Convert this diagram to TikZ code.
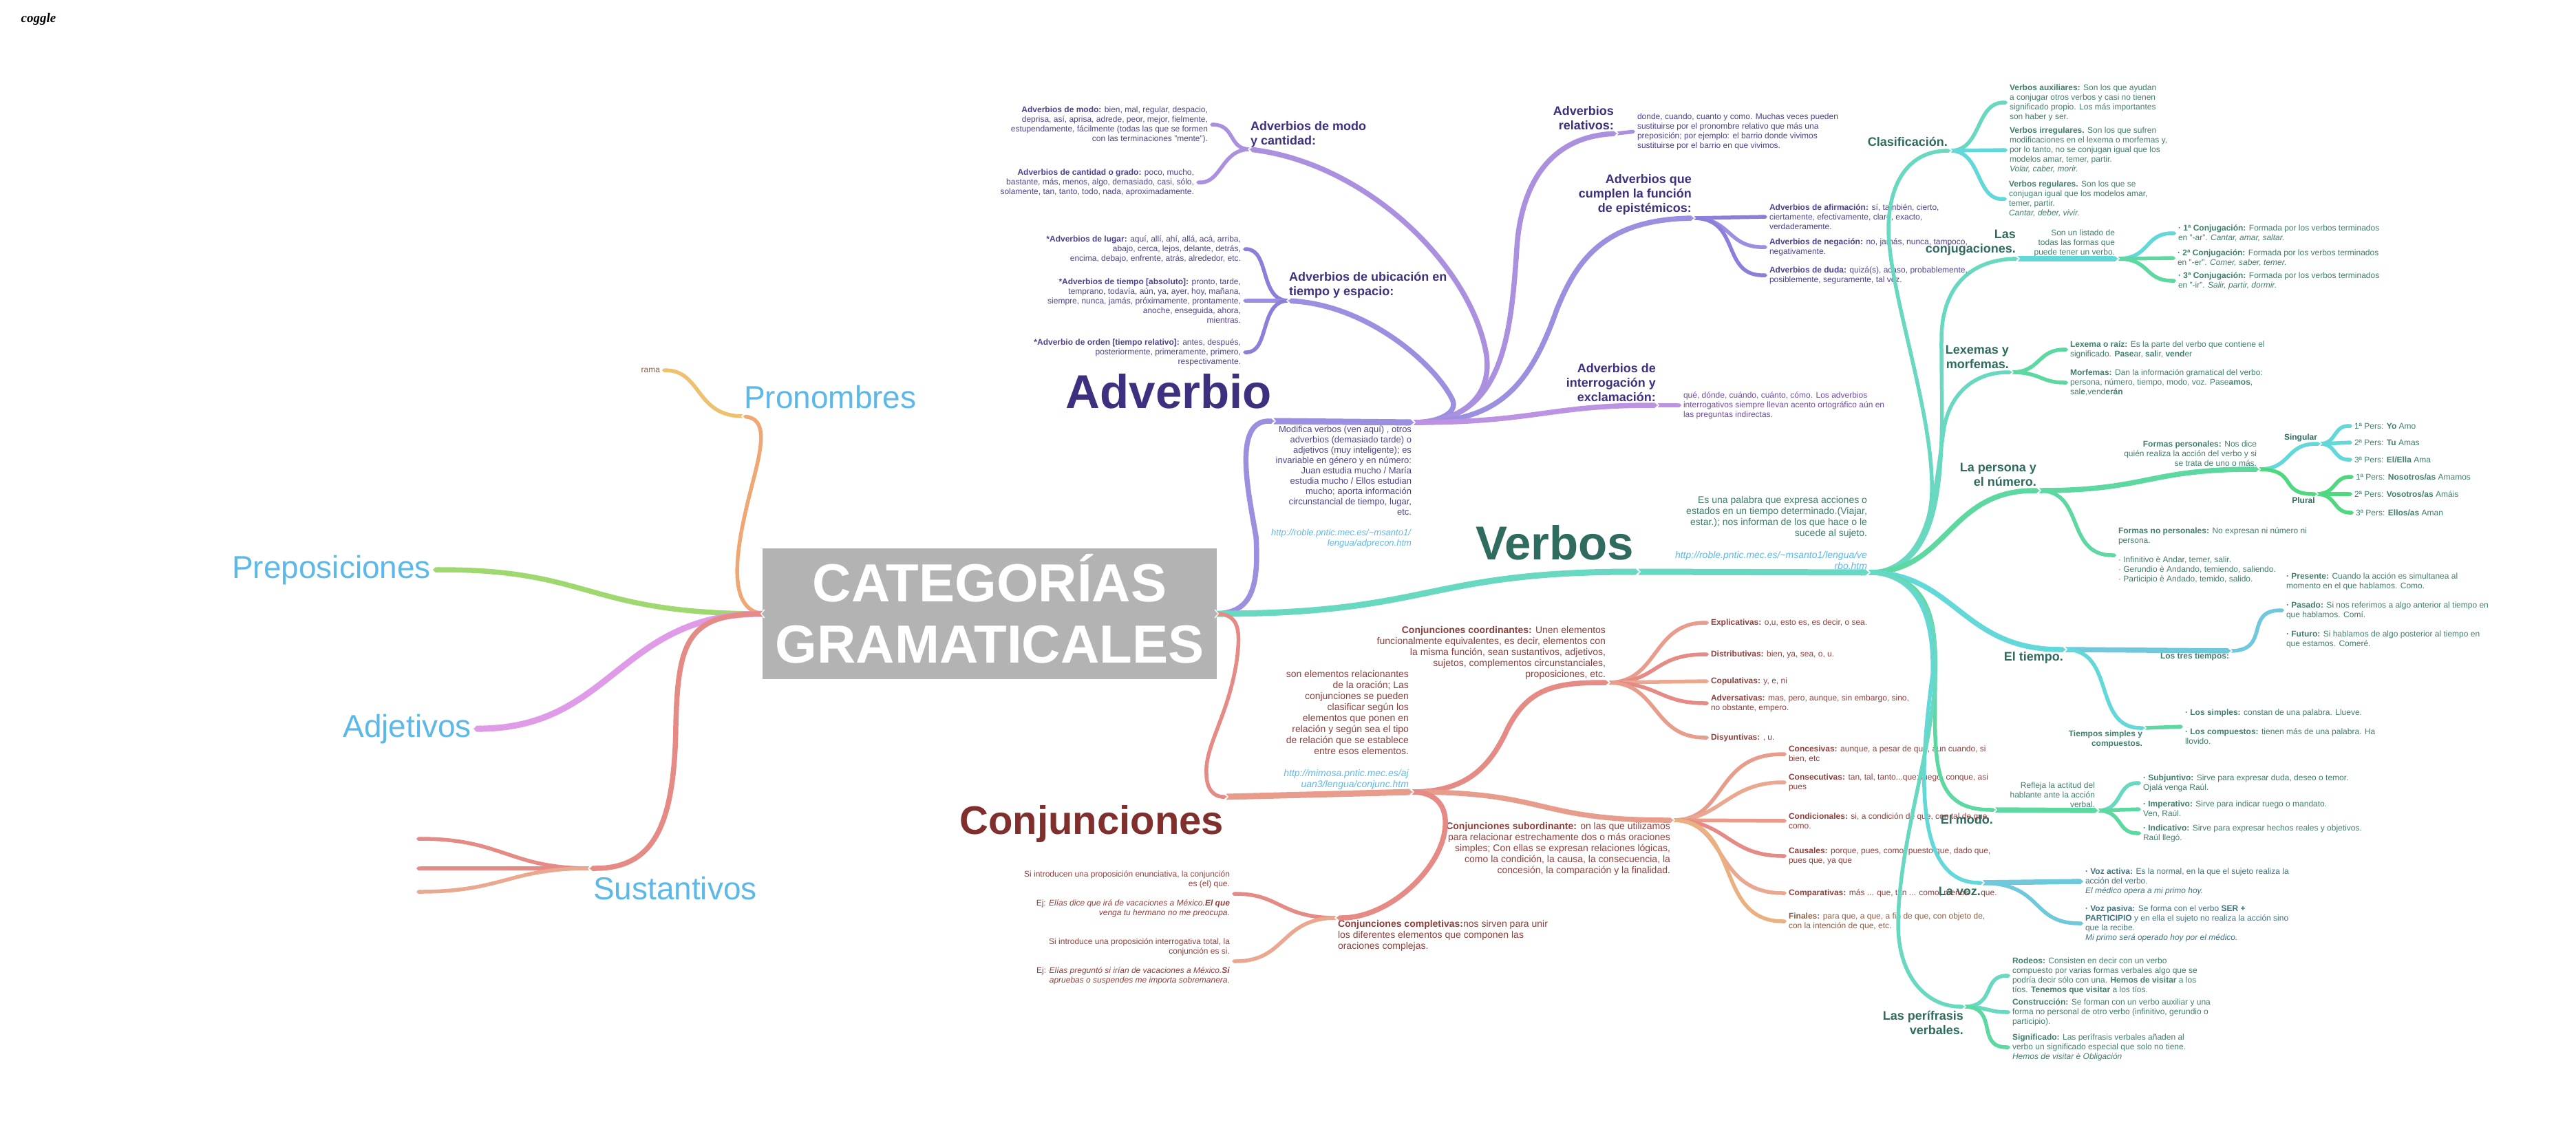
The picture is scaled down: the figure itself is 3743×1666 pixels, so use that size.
\documentclass[tikz,border=0pt]{standalone}
\usepackage{fontspec}
\setmainfont{Liberation Sans}
\newfontfamily\fuenteLogo{Liberation Serif}
\usetikzlibrary{arrows.meta}

\definecolor{gris}{HTML}{B3B3B3}
\definecolor{enlace}{HTML}{5BB8E8}
\definecolor{txMorado}{HTML}{4F3F8F}
\definecolor{txLila}{HTML}{6F4A9F}
\definecolor{txVerde}{HTML}{3F7D6C}
\definecolor{txAzul}{HTML}{3F7380}
\definecolor{txRojo}{HTML}{8E3F3A}
\definecolor{txOcre}{HTML}{8E5A3F}
\definecolor{tiMorado}{HTML}{3F2F7F}
\definecolor{tiVerde}{HTML}{2F6B5E}
\definecolor{tiRojo}{HTML}{802F2D}
\definecolor{naranja}{HTML}{EFA873}
\definecolor{amarillo}{HTML}{EEC170}
\definecolor{verdeP}{HTML}{A0D870}
\definecolor{rosa}{HTML}{E09BE8}
\definecolor{rojoA}{HTML}{E58A85}
\definecolor{rojoB}{HTML}{E89C8C}
\definecolor{rojoC}{HTML}{EAA890}
\definecolor{melon}{HTML}{EAB080}
\definecolor{moradoA}{HTML}{9B8FE0}
\definecolor{moradoB}{HTML}{AC90E0}
\definecolor{moradoC}{HTML}{8A80DC}
\definecolor{lila}{HTML}{BC92E2}
\definecolor{tealA}{HTML}{68D8C0}
\definecolor{tealB}{HTML}{62D8D8}
\definecolor{tealC}{HTML}{5CD8A0}
\definecolor{verdeV}{HTML}{4FD880}
\definecolor{azulV}{HTML}{70C8DC}

\tikzset{
  rama/.style={draw=#1,line cap=butt,-{Triangle Cap[]}},
  grueso/.style={line width=9pt},
  medio/.style={line width=7.5pt},
  fino/.style={line width=5.5pt},
  raiz/.style={fill=gris,text=white,align=center,inner sep=0pt,minimum width=660pt,minimum height=190pt,
    text depth=15pt,font=\bfseries\fontsize{78}{89}\selectfont},
  gran/.style={inner sep=0pt,outer sep=3pt,text=enlace,font=\fontsize{46}{52}\selectfont},
  tema/.style={inner sep=0pt,outer sep=3pt,text=#1,font=\bfseries\fontsize{69}{76}\selectfont},
  titulo/.style={inner sep=0pt,text=#1,font=\bfseries\fontsize{18}{21}\selectfont},
  hojaI/.style={anchor=west,align=left,inner sep=0pt,outer sep=3pt,text=#1,font=\fontsize{12}{14}\selectfont},
  hojaD/.style={anchor=east,align=right,inner sep=0pt,outer sep=3pt,text=#1,font=\fontsize{12}{14}\selectfont},
  letraB/.style={font=\fontsize{13}{15}\selectfont},
  letraC/.style={font=\fontsize{14}{16}\selectfont},
  chevD/.pic={\draw[white,line width=1.4pt] (-3,-6)--(2,0)--(-3,6);},
  chevI/.pic={\draw[white,line width=1.4pt] (3,-6)--(-2,0)--(3,6);}
}

\begin{document}
\begin{tikzpicture}[x=1pt,y=-1pt]
  \useasboundingbox (0,0) rectangle (3743,1666);

  \draw (56,28) node[inner sep=0pt,font=\fuenteLogo\bfseries\itshape\fontsize{19}{19}\selectfont] (logo) {coggle};

  % raiz y temas
  \draw (1438,892) node[raiz] (raiz) {CATEGORÍAS\\GRAMATICALES};
  \draw (1078,593) node[gran,anchor=base west] (pronombres) {Pronombres};
  \draw (629,840) node[gran,anchor=base east] (preposiciones) {Preposiciones};
  \draw (688,1071) node[gran,anchor=base east] (adjetivos) {Adjetivos};
  \draw (859,1307) node[gran,anchor=base west] (sustantivos) {Sustantivos};
  \draw (1851,593) node[tema=tiMorado,anchor=base east] (adverbio) {Adverbio};
  \draw (2141,813) node[tema=tiVerde,anchor=base west] (verbos) {Verbos};
  \draw (1781,1212) node[tema=tiRojo,font=\bfseries\fontsize{58}{64}\selectfont,anchor=base east] (conjunciones) {Conjunciones};
  \draw (962,538) node[hojaD=txOcre] (rama) {rama};

  % puntos de union
  \coordinate (jPron) at (1080,605);
  \coordinate (jSust) at (857,1262);
  \coordinate (sA) at (605,1219);
  \coordinate (sB) at (605,1262);
  \coordinate (sC) at (605,1296);
  \coordinate (jAdv) at (1851,612);
  \coordinate (jAdvB) at (2054,614);
  \coordinate (jModo) at (1816,217);
  \coordinate (jUbic) at (1872,437);
  \coordinate (jRel) at (2349,194);
  \coordinate (jEpis) at (2461,317);
  \coordinate (jInter) at (2408,589);
  \coordinate (jVerb) at (2381,831);
  \coordinate (jVerbB) at (2715,832);
  \coordinate (jClas) at (2834,219);
  \coordinate (jConj) at (2932,376);
  \coordinate (jConjB) at (3077,376);
  \coordinate (jLex) at (2923,541);
  \coordinate (jPers) at (2963,713);
  \coordinate (jForm) at (3282,682);
  \coordinate (jSing) at (3371,645);
  \coordinate (jPlur) at (3366,718);
  \coordinate (jTiem) at (3001,944);
  \coordinate (jTres) at (3241,946);
  \coordinate (jSimp) at (3116,1058);
  \coordinate (jMod) at (2899,1177);
  \coordinate (jModB) at (3048,1178);
  \coordinate (jVoz) at (2881,1283);
  \coordinate (jPerif) at (2854,1463);
  \coordinate (jCon) at (1782,1158);
  \coordinate (jConB) at (2052,1151);
  \coordinate (jCoord) at (2337,992);
  \coordinate (jSub) at (2431,1192);
  \coordinate (jComp) at (1942,1334);

  % adverbio
  \draw (1817,195) node[titulo=tiMorado,anchor=west,align=left] (tModo) {Adverbios de modo\\y cantidad:};
  \draw (1873,414) node[titulo=tiMorado,anchor=west,align=left] (tUbic) {Adverbios de ubicación en\\tiempo y espacio:};
  \draw (2345,172) node[titulo=tiMorado,anchor=east,align=right] (tRel) {Adverbios\\relativos:};
  \draw (2458,283) node[titulo=tiMorado,anchor=east,align=right] (tEpis) {Adverbios que\\cumplen la función\\de epistémicos:};
  \draw (2406,556) node[titulo=tiMorado,anchor=east,align=right] (tInter) {Adverbios de\\interrogación y\\exclamación:};
  \draw (2054,708) node[hojaD=txMorado,letraB] (defAdv) {Modifica verbos (ven aquí) , otros\\adverbios (demasiado tarde) o\\adjetivos (muy inteligente); es\\invariable en género y en número:\\Juan estudia mucho / María\\estudia mucho / Ellos estudian\\mucho; aporta información\\circunstancial de tiempo, lugar,\\etc.\\[15pt]\textcolor{enlace}{\textit{http://roble.pntic.mec.es/\textasciitilde msanto1/}}\\\textcolor{enlace}{\textit{lengua/adprecon.htm}}};
  \draw (1758,181) node[hojaD=txMorado] (modo) {\textbf{Adverbios de modo:} bien, mal, regular, despacio,\\deprisa, así, aprisa, adrede, peor, mejor, fielmente,\\estupendamente, fácilmente (todas las que se formen\\con las terminaciones "mente").};
  \draw (1738,265) node[hojaD=txMorado] (cantidad) {\textbf{Adverbios de cantidad o grado:} poco, mucho,\\bastante, más, menos, algo, demasiado, casi, sólo,\\solamente, tan, tanto, todo, nada, aproximadamente.};
  \draw (1806,362) node[hojaD=txMorado] (lugar) {\textbf{*Adverbios de lugar:} aquí, allí, ahí, allá, acá, arriba,\\abajo, cerca, lejos, delante, detrás,\\encima, debajo, enfrente, atrás, alrededor, etc.};
  \draw (1806,437) node[hojaD=txMorado] (tiempoAdv) {\textbf{*Adverbios de tiempo [absoluto]:} pronto, tarde,\\temprano, todavía, aún, ya, ayer, hoy, mañana,\\siempre, nunca, jamás, próximamente, prontamente,\\anoche, enseguida, ahora,\\mientras.};
  \draw (1806,512) node[hojaD=txMorado] (orden) {\textbf{*Adverbio de orden [tiempo relativo]:} antes, después,\\posteriormente, primeramente, primero,\\respectivamente.};
  \draw (2376,191) node[hojaI=txMorado] (relTxt) {donde, cuando, cuanto y como. Muchas veces pueden\\sustituirse por el pronombre relativo que más una\\preposición; por ejemplo: el barrio donde vivimos\\sustituirse por el barrio en que vivimos.};
  \draw (2568,315) node[hojaI=txMorado] (afirm) {\textbf{Adverbios de afirmación:} sí, también, cierto,\\ciertamente, efectivamente, claro, exacto,\\verdaderamente.};
  \draw (2568,359) node[hojaI=txMorado] (nega) {\textbf{Adverbios de negación:} no, jamás, nunca, tampoco,\\negativamente.};
  \draw (2568,400) node[hojaI=txMorado] (duda) {\textbf{Adverbios de duda:} quizá(s), acaso, probablemente,\\posiblemente, seguramente, tal vez.};
  \draw (2443,589) node[hojaI=txLila] (interTxt) {qué, dónde, cuándo, cuánto, cómo. Los adverbios\\interrogativos siempre llevan acento ortográfico aún en\\las preguntas indirectas.};

  % verbos
  \draw (2716,774) node[hojaD=txVerde,letraC] (defVerb) {Es una palabra que expresa acciones o\\estados en un tiempo determinado.(Viajar,\\estar.); nos informan de los que hace o le\\sucede al sujeto.\\[16pt]\textcolor{enlace}{\textit{http://roble.pntic.mec.es/\textasciitilde msanto1/lengua/ve}}\\\textcolor{enlace}{\textit{rbo.htm}}};
  \draw (2830,206) node[titulo=tiVerde,anchor=east] (tClas) {Clasificación.};
  \draw (2929,353) node[titulo=tiVerde,anchor=east,align=right] (tConj) {Las\\conjugaciones.};
  \draw (2919,519) node[titulo=tiVerde,anchor=east,align=right] (tLex) {Lexemas y\\morfemas.};
  \draw (2959,690) node[titulo=tiVerde,anchor=east,align=right] (tPers) {La persona y\\el número.};
  \draw (2998,956) node[titulo=tiVerde,anchor=east] (tTiem) {El tiempo.};
  \draw (2896,1191) node[titulo=tiVerde,anchor=east] (tMod) {El modo.};
  \draw (2878,1295) node[titulo=tiVerde,anchor=east] (tVoz) {La voz.};
  \draw (2853,1486) node[titulo=tiVerde,anchor=east,align=right] (tPerif) {Las perífrasis\\verbales.};
  \draw (2917,149) node[hojaI=txVerde] (auxil) {\textbf{Verbos auxiliares:} Son los que ayudan\\a conjugar otros verbos y casi no tienen\\significado propio. Los más importantes\\son haber y ser.};
  \draw (2917,218) node[hojaI=txVerde] (irreg) {\textbf{Verbos irregulares.} Son los que sufren\\modificaciones en el lexema o morfemas y,\\por lo tanto, no se conjugan igual que los\\modelos amar, temer, partir.\\\textit{Volar, caber, morir.}};
  \draw (2916,289) node[hojaI=txVerde] (regul) {\textbf{Verbos regulares.} Son los que se\\conjugan igual que los modelos amar,\\temer, partir.\\\textit{Cantar, deber, vivir.}};
  \draw (3076,353) node[hojaD=txVerde] (defConj) {Son un listado de\\todas las formas que\\puede tener un verbo.};
  \draw (3162,339) node[hojaI=txVerde] (conjA) {\textbf{· 1ª Conjugación:} Formada por los verbos terminados\\en "-ar". \textit{Cantar, amar, saltar.}};
  \draw (3161,375) node[hojaI=txVerde] (conjB) {\textbf{· 2ª Conjugación:} Formada por los verbos terminados\\en "-er". \textit{Comer, saber, temer.}};
  \draw (3162,408) node[hojaI=txVerde] (conjC) {\textbf{· 3ª Conjugación:} Formada por los verbos terminados\\en "-ir". \textit{Salir, partir, dormir.}};
  \draw (3005,508) node[hojaI=txVerde] (lexema) {\textbf{Lexema o raíz:} Es la parte del verbo que contiene el\\significado. \textbf{Pase}ar, \textbf{sal}ir, \textbf{vend}er};
  \draw (3005,556) node[hojaI=txVerde] (morfemas) {\textbf{Morfemas:} Dan la información gramatical del verbo:\\persona, número, tiempo, modo, voz. Pase\textbf{amos},\\sal\textbf{e},vend\textbf{erán}};
  \draw (3282,659) node[hojaD=txVerde] (formasP) {\textbf{Formas personales:} Nos dice\\quién realiza la acción del verbo y si\\se trata de uno o más.};
  \draw (3075,807) node[hojaI=txVerde] (formasN) {\textbf{Formas no personales:} No expresan ni número ni\\persona.\\[14pt]· Infinitivo è Andar, temer, salir.\\· Gerundio è Andando, temiendo, saliendo.\\· Participio è Andado, temido, salido.};
  \draw (3343,636) node[titulo=tiVerde,font=\bfseries\fontsize{12}{14}\selectfont] (tSing) {Singular};
  \draw (3347,727) node[titulo=tiVerde,font=\bfseries\fontsize{12}{14}\selectfont] (tPlur) {Plural};
  \draw (3418,619) node[hojaI=txVerde] (sgA) {1ª Pers: \textbf{Yo} Amo};
  \draw (3418,643) node[hojaI=txVerde] (sgB) {2ª Pers: \textbf{Tu} Amas};
  \draw (3418,668) node[hojaI=txVerde] (sgC) {3ª Pers: \textbf{El/Ella} Ama};
  \draw (3420,693) node[hojaI=txVerde] (plA) {1ª Pers: \textbf{Nosotros/as} Amamos};
  \draw (3418,718) node[hojaI=txVerde] (plB) {2ª Pers: \textbf{Vosotros/as} Amáis};
  \draw (3420,745) node[hojaI=txVerde] (plC) {3ª Pers: \textbf{Ellos/as} Aman};
  \draw (3242,954) node[hojaD=txVerde] (tTres) {\textbf{Los tres tiempos:}};
  \draw (3319,887) node[hojaI=txVerde] (tresTxt) {\textbf{· Presente:} Cuando la acción es simultanea al\\momento en el que hablamos. Como.\\[14pt]\textbf{· Pasado:} Si nos referimos a algo anterior al tiempo en\\que hablamos. Comí.\\[14pt]\textbf{· Futuro:} Si hablamos de algo posterior al tiempo en\\que estamos. Comeré.};
  \draw (3116,1074) node[hojaD=txVerde] (tSimp) {\textbf{Tiempos simples y}\\\textbf{compuestos.}};
  \draw (3172,1056) node[hojaI=txVerde] (simpTxt) {\textbf{· Los simples:} constan de una palabra. Llueve.\\[14pt]\textbf{· Los compuestos:} tienen más de una palabra. Ha\\llovido.};
  \draw (3047,1155) node[hojaD=txVerde] (defMod) {Refleja la actitud del\\hablante ante la acción\\verbal.};
  \draw (3111,1138) node[hojaI=txVerde] (subj) {\textbf{· Subjuntivo:} Sirve para expresar duda, deseo o temor.\\Ojalá venga Raúl.};
  \draw (3111,1176) node[hojaI=txVerde] (imper) {\textbf{· Imperativo:} Sirve para indicar ruego o mandato.\\Ven, Raúl.};
  \draw (3111,1211) node[hojaI=txVerde] (indic) {\textbf{· Indicativo:} Sirve para expresar hechos reales y objetivos.\\Raúl llegó.};
  \draw (3027,1281) node[hojaI=txAzul] (vozA) {\textbf{· Voz activa:} Es la normal, en la que el sujeto realiza la\\acción del verbo.\\\textit{El médico opera a mi primo hoy.}};
  \draw (3027,1342) node[hojaI=txAzul] (vozP) {\textbf{· Voz pasiva:} Se forma con el verbo \textbf{SER +}\\\textbf{PARTICIPIO} y en ella el sujeto no realiza la acción sino\\que la recibe.\\\textit{Mi primo será operado hoy por el médico.}};
  \draw (2921,1418) node[hojaI=txVerde] (rodeos) {\textbf{Rodeos:} Consisten en decir con un verbo\\compuesto por varias formas verbales algo que se\\podría decir sólo con una. \textbf{Hemos de visitar} a los\\tíos. \textbf{Tenemos que visitar} a los tíos.};
  \draw (2921,1471) node[hojaI=txVerde] (constr) {\textbf{Construcción:} Se forman con un verbo auxiliar y una\\forma no personal de otro verbo (infinitivo, gerundio o\\participio).};
  \draw (2921,1522) node[hojaI=txVerde] (signif) {\textbf{Significado:} Las perífrasis verbales añaden al\\verbo un significado especial que solo no tiene.\\\textit{Hemos de visitar è Obligación}};

  % conjunciones
  \draw (2050,1061) node[hojaD=txRojo,letraC] (defCon) {son elementos relacionantes\\de la oración; Las\\conjunciones se pueden\\clasificar según los\\elementos que ponen en\\relación y según sea el tipo\\de relación que se establece\\entre esos elementos.\\[16pt]\textcolor{enlace}{\textit{http://mimosa.pntic.mec.es/aj}}\\\textcolor{enlace}{\textit{uan3/lengua/conjunc.htm}}};
  \draw (2336,949) node[hojaD=txRojo,letraC] (coord) {\textbf{Conjunciones coordinantes:} Unen elementos\\funcionalmente equivalentes, es decir, elementos con\\la misma función, sean sustantivos, adjetivos,\\sujetos, complementos circunstanciales,\\proposiciones, etc.};
  \draw (2430,1234) node[hojaD=txRojo,letraC] (subord) {\textbf{Conjunciones subordinante:} on las que utilizamos\\para relacionar estrechamente dos o más oraciones\\simples; Con ellas se expresan relaciones lógicas,\\como la condición, la causa, la consecuencia, la\\concesión, la comparación y la finalidad.};
  \draw (1941,1360) node[hojaI=txRojo,letraC] (compl) {\textbf{Conjunciones completivas:}nos sirven para unir\\los diferentes elementos que componen las\\oraciones complejas.};
  \draw (2483,905) node[hojaI=txRojo] (explic) {\textbf{Explicativas:} o,u, esto es, es decir, o sea.};
  \draw (2483,951) node[hojaI=txRojo] (distr) {\textbf{Distributivas:} bien, ya, sea, o, u.};
  \draw (2483,990) node[hojaI=txRojo] (copul) {\textbf{Copulativas:} y, e, ni};
  \draw (2483,1022) node[hojaI=txRojo] (adver) {\textbf{Adversativas:} mas, pero, aunque, sin embargo, sino,\\no obstante, empero.};
  \draw (2483,1072) node[hojaI=txRojo] (disyu) {\textbf{Disyuntivas:} , u.};
  \draw (2596,1096) node[hojaI=txRojo] (conce) {\textbf{Concesivas:} aunque, a pesar de que, aun cuando, si\\bien, etc};
  \draw (2596,1137) node[hojaI=txRojo] (conse) {\textbf{Consecutivas:} tan, tal, tanto...que; luego, conque, asi\\pues};
  \draw (2596,1193) node[hojaI=txRojo] (condi) {\textbf{Condicionales:} si, a condición de que, con tal de que,\\como.};
  \draw (2596,1244) node[hojaI=txRojo] (causa) {\textbf{Causales:} porque, pues, como, puesto que, dado que,\\pues que, ya que};
  \draw (2596,1298) node[hojaI=txRojo] (compa) {\textbf{Comparativas:} más ... que, tan ... como, menos ... que.};
  \draw (2596,1339) node[hojaI=txOcre] (final) {\textbf{Finales:} para que, a que, a fin de que, con objeto de,\\con la intención de que, etc.};
  \draw (1790,1299) node[hojaD=txRojo] (enunc) {Si introducen una proposición enunciativa, la conjunción\\es (el) que.\\[14pt]Ej: \textit{Elías dice que irá de vacaciones a México.\textbf{El que}}\\\textit{venga tu hermano no me preocupa.}};
  \draw (1790,1397) node[hojaD=txRojo] (inter) {Si introduce una proposición interrogativa total, la\\conjunción es si.\\[14pt]Ej: \textit{Elías preguntó si irían de vacaciones a México.\textbf{Si}}\\\textit{apruebas o suspendes me importa sobremanera.}};

  % ramas de la izquierda
  \draw[rama=naranja,fino] (raiz.west) .. controls (1062,886) and (1066,820) .. (1083,745) .. controls (1097,680) and (1125,612) .. (jPron);
  \draw[rama=amarillo,fino] (jPron) .. controls (1010,605) and (1020,539) .. (rama.east);
  \draw[rama=verdeP,medio] (raiz.west) .. controls (850,892) and (860,827) .. (preposiciones.east);
  \draw[rama=rosa,grueso] (raiz.west) .. controls (900,892) and (890,1058) .. (adjetivos.east);
  \draw[rama=rojoA,medio] (raiz.west) .. controls (1000,892) and (985,930) .. (982,1054) .. controls (980,1200) and (950,1262) .. (jSust);
  \draw[rama=rojoA,fino] (jSust) .. controls (740,1262) and (730,1219) .. (sA);
  \draw[rama=rojoA,fino] (jSust) -- (sB);
  \draw[rama=rojoC,fino] (jSust) .. controls (740,1262) and (730,1296) .. (sC);

  % ramas de adverbio
  \draw[rama=moradoA,medio] (raiz.east) .. controls (1815,890) and (1830,860) .. (1825,780) .. controls (1815,720) and (1790,612) .. (jAdv);
  \draw[rama=moradoA,grueso] (jAdv) -- (jAdvB);
  \draw[rama=moradoB,medio] (jAdvB) .. controls (2120,614) and (2168,580) .. (2160,517) .. controls (2140,390) and (1990,240) .. (jModo);
  \draw[rama=moradoA,medio] (jAdvB) .. controls (2090,614) and (2120,600) .. (2110,580) .. controls (2085,530) and (1990,445) .. (jUbic);
  \draw[rama=moradoB,medio] (jAdvB) .. controls (2180,614) and (2195,500) .. (2204,360) .. controls (2210,270) and (2250,200) .. (jRel);
  \draw[rama=moradoA,medio] (jAdvB) .. controls (2170,614) and (2220,570) .. (2262,450) .. controls (2290,380) and (2330,320) .. (jEpis);
  \draw[rama=lila,medio] (jAdvB) .. controls (2230,614) and (2250,589) .. (jInter);
  \draw[rama=lila,fino] (jInter) -- (interTxt.west);
  \draw[rama=moradoB,fino] (jRel) -- (relTxt.west);
  \draw[rama=moradoB,fino] (jModo) .. controls (1785,217) and (1795,182) .. (modo.east);
  \draw[rama=moradoB,fino] (jModo) .. controls (1775,217) and (1775,266) .. (cantidad.east);
  \draw[rama=moradoC,fino] (jUbic) .. controls (1830,437) and (1845,363) .. (lugar.east);
  \draw[rama=moradoA,fino] (jUbic) -- (tiempoAdv.east);
  \draw[rama=moradoC,fino] (jUbic) .. controls (1830,437) and (1845,512) .. (orden.east);
  \draw[rama=moradoC,fino] (jEpis) -- (afirm.west);
  \draw[rama=moradoA,fino] (jEpis) .. controls (2515,317) and (2510,360) .. (nega.west);
  \draw[rama=moradoC,fino] (jEpis) .. controls (2530,317) and (2500,401) .. (duda.west);

  % ramas de verbos
  \draw[rama=tealA,grueso] (raiz.east) .. controls (2080,892) and (2070,831) .. (jVerb);
  \draw[rama=tealA,grueso] (jVerb) -- (jVerbB);
  \draw[rama=tealA,fino] (jVerbB) .. controls (2770,832) and (2805,780) .. (2807,715) .. controls (2810,600) and (2743,420) .. (2744,330) .. controls (2745,270) and (2770,220) .. (jClas);
  \draw[rama=tealA,fino] (jVerbB) .. controls (2840,832) and (2820,640) .. (2821,490) .. controls (2822,420) and (2860,378) .. (jConj);
  \draw[rama=tealA,fino] (jVerbB) .. controls (2810,832) and (2812,700) .. (2825,620) .. controls (2835,570) and (2870,541) .. (jLex);
  \draw[rama=tealC,medio] (jVerbB) .. controls (2830,832) and (2830,713) .. (jPers);
  \draw[rama=tealB,medio] (jVerbB) .. controls (2840,832) and (2850,944) .. (jTiem);
  \draw[rama=tealC,fino] (jVerbB) .. controls (2790,835) and (2812,880) .. (2812,960) .. controls (2812,1100) and (2800,1177) .. (jMod);
  \draw[rama=tealB,fino] (jVerbB) .. controls (2790,835) and (2810,900) .. (2808,980) .. controls (2795,1080) and (2770,1283) .. (jVoz);
  \draw[rama=tealA,fino] (jVerbB) .. controls (2790,835) and (2815,890) .. (2812,980) .. controls (2808,1090) and (2760,1220) .. (2758,1340) .. controls (2757,1420) and (2800,1463) .. (jPerif);
  \draw[rama=tealA,fino] (jClas) .. controls (2880,219) and (2870,149) .. (auxil.west);
  \draw[rama=tealB,fino] (jClas) -- (irreg.west);
  \draw[rama=tealB,fino] (jClas) .. controls (2880,219) and (2870,291) .. (regul.west);
  \draw[rama=tealB,medio] (jConj) -- (jConjB);
  \draw[rama=tealB,fino] (jConjB) .. controls (3125,376) and (3115,339) .. (conjA.west);
  \draw[rama=tealC,fino] (jConjB) -- (conjB.west);
  \draw[rama=tealC,fino] (jConjB) .. controls (3125,376) and (3115,408) .. (conjC.west);
  \draw[rama=tealC,fino] (jLex) .. controls (2965,541) and (2960,508) .. (lexema.west);
  \draw[rama=tealC,fino] (jLex) .. controls (2965,541) and (2965,556) .. (morfemas.west);
  \draw[rama=tealC,medio] (jPers) .. controls (3120,713) and (3120,682) .. (jForm);
  \draw[rama=tealC,fino] (jPers) .. controls (3030,713) and (3000,807) .. (formasN.west);
  \draw[rama=tealB,fino] (jForm) .. controls (3330,682) and (3320,645) .. (jSing);
  \draw[rama=verdeV,fino] (jForm) .. controls (3340,682) and (3310,718) .. (jPlur);
  \draw[rama=tealB,fino] (jSing) .. controls (3395,645) and (3390,619) .. (sgA.west);
  \draw[rama=tealB,fino] (jSing) -- (sgB.west);
  \draw[rama=tealB,fino] (jSing) .. controls (3395,645) and (3390,668) .. (sgC.west);
  \draw[rama=verdeV,fino] (jPlur) .. controls (3395,718) and (3390,693) .. (plA.west);
  \draw[rama=verdeV,fino] (jPlur) -- (plB.west);
  \draw[rama=verdeV,fino] (jPlur) .. controls (3395,718) and (3390,745) .. (plC.west);
  \draw[rama=azulV,medio] (jTiem) -- (jTres);
  \draw[rama=azulV,fino] (jTres) .. controls (3300,946) and (3260,887) .. (tresTxt.west);
  \draw[rama=tealB,fino] (jTiem) .. controls (3075,944) and (3040,1058) .. (jSimp);
  \draw[rama=tealC,fino] (jSimp) -- (simpTxt.west);
  \draw[rama=tealC,medio] (jMod) -- (jModB);
  \draw[rama=tealA,fino] (jModB) .. controls (3085,1178) and (3075,1138) .. (subj.west);
  \draw[rama=tealC,fino] (jModB) -- (imper.west);
  \draw[rama=tealC,fino] (jModB) .. controls (3085,1178) and (3075,1211) .. (indic.west);
  \draw[rama=azulV,medio] (jVoz) -- (vozA.west);
  \draw[rama=azulV,fino] (jVoz) .. controls (2970,1285) and (2950,1342) .. (vozP.west);
  \draw[rama=tealA,fino] (jPerif) .. controls (2900,1463) and (2880,1418) .. (rodeos.west);
  \draw[rama=tealA,fino] (jPerif) .. controls (2885,1463) and (2890,1471) .. (constr.west);
  \draw[rama=tealC,fino] (jPerif) .. controls (2905,1463) and (2870,1522) .. (signif.west);

  % ramas de conjunciones
  \draw[rama=rojoA,fino] (raiz.east) .. controls (1800,893) and (1803,915) .. (1797,960) .. controls (1785,1040) and (1750,1085) .. (1753,1125) .. controls (1753,1148) and (1765,1158) .. (jCon);
  \draw[rama=rojoB,grueso] (jCon) -- (jConB);
  \draw[rama=rojoA,medio] (jConB) .. controls (2130,1151) and (2165,1115) .. (2190,1060) .. controls (2220,1000) and (2260,992) .. (jCoord);
  \draw[rama=rojoB,medio] (jConB) .. controls (2250,1151) and (2230,1192) .. (jSub);
  \draw[rama=rojoA,medio] (jConB) .. controls (2085,1151) and (2102,1170) .. (2100,1200) .. controls (2097,1260) and (2020,1334) .. (jComp);
  \draw[rama=rojoB,fino] (jCoord) .. controls (2410,992) and (2400,905) .. (explic.west);
  \draw[rama=rojoA,fino] (jCoord) .. controls (2410,992) and (2400,951) .. (distr.west);
  \draw[rama=rojoC,fino] (jCoord) -- (copul.west);
  \draw[rama=rojoA,fino] (jCoord) .. controls (2410,992) and (2410,1022) .. (adver.west);
  \draw[rama=rojoB,fino] (jCoord) .. controls (2410,992) and (2400,1072) .. (disyu.west);
  \draw[rama=rojoB,fino] (jSub) .. controls (2510,1192) and (2490,1096) .. (conce.west);
  \draw[rama=rojoC,fino] (jSub) .. controls (2500,1192) and (2510,1137) .. (conse.west);
  \draw[rama=rojoB,fino] (jSub) -- (condi.west);
  \draw[rama=rojoA,fino] (jSub) .. controls (2510,1192) and (2510,1244) .. (causa.west);
  \draw[rama=rojoC,fino] (jSub) .. controls (2510,1192) and (2490,1298) .. (compa.west);
  \draw[rama=melon,fino] (jSub) .. controls (2530,1192) and (2490,1339) .. (final.west);
  \draw[rama=rojoA,fino] (jComp) .. controls (1860,1334) and (1860,1299) .. (enunc.east);
  \draw[rama=rojoC,fino] (jComp) .. controls (1860,1334) and (1870,1397) .. (inter.east);

  % muescas blancas
  \draw (raiz.west) pic {chevI};
  \draw (raiz.east) pic {chevD};
  \draw (jPron) pic {chevI};
  \draw (jSust) pic {chevI};
  \draw (jAdv) pic {chevD};
  \draw (jAdvB) pic {chevD};
  \draw (jModo) pic {chevI};
  \draw (jUbic) pic {chevI};
  \draw (jRel) pic {chevD};
  \draw (jEpis) pic {chevD};
  \draw (jInter) pic {chevD};
  \draw (jVerb) pic {chevD};
  \draw (jVerbB) pic {chevD};
  \draw (jClas) pic {chevD};
  \draw (jConj) pic {chevD};
  \draw (jConjB) pic {chevD};
  \draw (jLex) pic {chevD};
  \draw (jPers) pic {chevD};
  \draw (jForm) pic {chevD};
  \draw (jSing) pic {chevD};
  \draw (jPlur) pic {chevD};
  \draw (jTiem) pic {chevD};
  \draw (jTres) pic {chevD};
  \draw (jSimp) pic {chevD};
  \draw (jMod) pic {chevD};
  \draw (jModB) pic {chevD};
  \draw (jVoz) pic {chevD};
  \draw (jPerif) pic {chevD};
  \draw (jCon) pic {chevD};
  \draw (jConB) pic {chevD};
  \draw (jCoord) pic {chevD};
  \draw (jSub) pic {chevD};
  \draw (jComp) pic {chevI};
\end{tikzpicture}
\end{document}
